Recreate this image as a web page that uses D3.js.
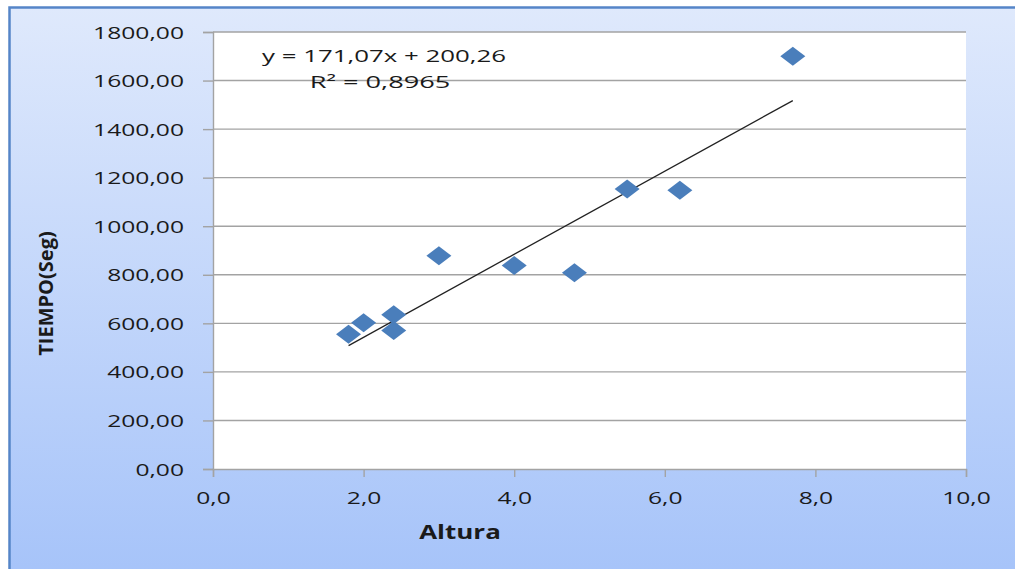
<!DOCTYPE html>
<html>
<head>
<meta charset="utf-8">
<script src="https://cdn.jsdelivr.net/npm/d3@7"></script>
<style>
  html, body { margin: 0; padding: 0; background: #ffffff; }
  svg { display: block; }
  text { font-family: "Open Sans", "Noto Sans", sans-serif; fill: #1a1a1a; }
</style>
</head>
<body>
<svg id="chart" width="1015" height="569"></svg>
<script>
// Altura vs. tiempo measurements
const altura = [1.8, 2.0, 2.4, 2.4, 3.0, 4.0, 4.8, 5.5, 6.2, 7.7];
const tiempo = [555, 602, 635, 570, 878, 838, 808, 1153, 1148, 1700];

// Linear trend shown on the chart
const slope = 171.07;
const intercept = 200.26;
const rSquared = 0.8965;

// Axis ticks
const xTicks = [0, 2, 4, 6, 8, 10];
const yTicks = [0, 200, 400, 600, 800, 1000, 1200, 1400, 1600, 1800];

const xLabel = "Altura";
const yLabel = "TIEMPO(Seg)";

const W = 1015, H = 569;
const svg = d3.select("#chart");

const locale = d3.formatLocale({ decimal: ",", thousands: "", grouping: [3], currency: ["", ""] });
const fmtX = locale.format(".1f");
const fmtY = locale.format(".2f");
const fmtCoef = locale.format(".2f");
const fmtR = locale.format(".4f");

// horizontal text stretch used throughout
const SX = 1.45;

// background gradient of the chart area
const defs = svg.append("defs");
const grad = defs.append("linearGradient").attr("id", "bg").attr("x1", 0).attr("y1", 0).attr("x2", 0).attr("y2", 1);
grad.append("stop").attr("offset", "0%").attr("stop-color", "#dfe9fc");
grad.append("stop").attr("offset", "100%").attr("stop-color", "#a4c2f9");

svg.append("rect").attr("x", 0).attr("y", 0).attr("width", W).attr("height", H).attr("fill", "#ffffff");
svg.append("rect")
  .attr("x", 9.5).attr("y", 7.5).attr("width", W + 20).attr("height", H + 20)
  .attr("fill", "url(#bg)")
  .attr("stroke", "#5585c8").attr("stroke-width", 2.5);

const x = d3.scaleLinear().domain([0, 10]).range([213, 966]);
const y = d3.scaleLinear().domain([0, 1800]).range([469, 32]);

// plot area
svg.append("rect")
  .attr("x", x(0)).attr("y", y(1800))
  .attr("width", x(10) - x(0)).attr("height", y(0) - y(1800))
  .attr("fill", "#ffffff");

// horizontal gridlines
svg.append("g").selectAll("line").data(yTicks.filter(d => d > 0)).join("line")
  .attr("x1", x(0)).attr("x2", x(10))
  .attr("y1", d => y(d)).attr("y2", d => y(d))
  .attr("stroke", "#a3a3a3").attr("stroke-width", 1.4);

// y axis
const gy = svg.append("g").attr("transform", `translate(${x(0)},0)`)
  .call(d3.axisLeft(y).tickValues(yTicks).tickFormat(fmtY).tickSize(10).tickPadding(0));
gy.select(".domain").attr("stroke", "#a3a3a3").attr("stroke-width", 1.4);
gy.selectAll(".tick line").attr("stroke", "#a3a3a3").attr("stroke-width", 1.4);
gy.selectAll(".tick text")
  .attr("x", 0).attr("dy", null)
  .attr("transform", `translate(-29,6) scale(${SX},1)`)
  .style("font-size", "17px").style("fill", "#1a1a1a")
  .attr("font-family", null);

// x axis
const gx = svg.append("g").attr("transform", `translate(0,${y(0)})`)
  .call(d3.axisBottom(x).tickValues(xTicks).tickFormat(fmtX).tickSize(8).tickPadding(0));
gx.select(".domain").attr("stroke", "#a3a3a3").attr("stroke-width", 1.4);
gx.selectAll(".tick line").attr("stroke", "#a3a3a3").attr("stroke-width", 1.4);
gx.selectAll(".tick text")
  .attr("y", 0).attr("dy", null)
  .attr("transform", `translate(0,35) scale(${SX},1)`)
  .style("font-size", "17px").style("fill", "#1a1a1a")
  .attr("font-family", null);

// trend line across the measured range
const xMin = d3.min(altura), xMax = d3.max(altura);
svg.append("line")
  .attr("x1", x(xMin)).attr("y1", y(slope * xMin + intercept))
  .attr("x2", x(xMax)).attr("y2", y(slope * xMax + intercept))
  .attr("stroke", "#222222").attr("stroke-width", 1.3);

// diamond markers
const diamond = "M0,-9.5L12.5,0L0,9.5L-12.5,0Z";
svg.append("g").selectAll("path").data(altura.map((a, i) => [a, tiempo[i]])).join("path")
  .attr("d", diamond)
  .attr("transform", d => `translate(${x(d[0])},${y(d[1])})`)
  .attr("fill", "#4a7ebb");

// trend equation
const eq = svg.append("g");
eq.append("text")
  .attr("transform", `translate(384,62) scale(1.52,1)`)
  .attr("text-anchor", "middle").style("font-size", "17px")
  .text(`y = ${fmtCoef(slope)}x + ${fmtCoef(intercept)}`);
eq.append("text")
  .attr("transform", `translate(380,88) scale(1.6,1)`)
  .attr("text-anchor", "middle").style("font-size", "17px")
  .text(`R² = ${fmtR(rSquared)}`);

// axis titles
svg.append("text")
  .attr("transform", `translate(460,539) scale(1.3,1)`)
  .attr("text-anchor", "middle").style("font-size", "20px").style("font-weight", "bold")
  .text(xLabel);
svg.append("text")
  .attr("transform", `translate(53,293.5) rotate(-90)`)
  .attr("text-anchor", "middle").style("font-size", "20px").style("font-weight", "bold")
  .text(yLabel);
</script>
</body>
</html>
